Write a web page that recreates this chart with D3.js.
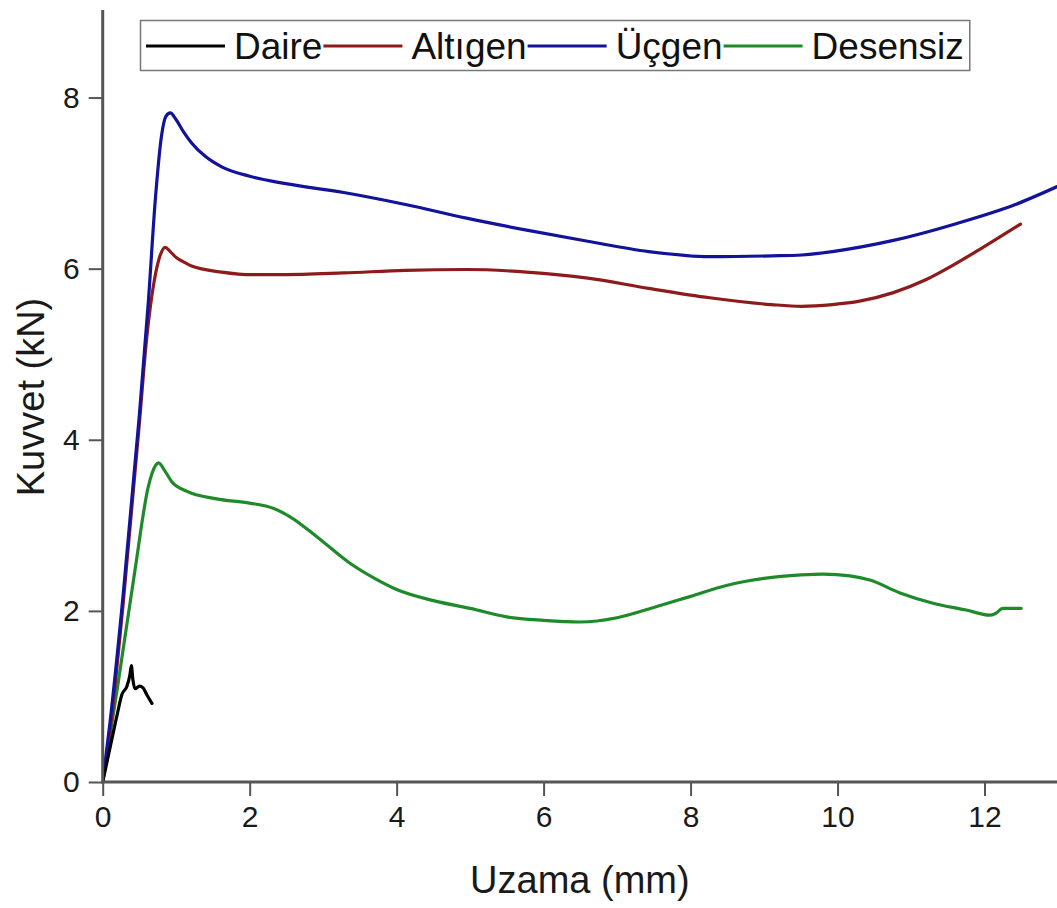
<!DOCTYPE html>
<html>
<head>
<meta charset="utf-8">
<script src="https://cdn.jsdelivr.net/npm/d3@7"></script>
<style>
  html, body { margin: 0; padding: 0; background: #fff; }
  svg { display: block; font-family: "Liberation Sans", Arial, sans-serif; }
</style>
</head>
<body>
<svg id="chart" width="1057" height="908"></svg>
<script>
// ---- data ----
const seriesNames = ["Daire", "Altıgen", "Üçgen", "Desensiz"];
const xTicks = [0, 2, 4, 6, 8, 10, 12];
const yTicks = [0, 2, 4, 6, 8];

const daireX = [0, 0.1, 0.2, 0.26, 0.33, 0.37, 0.39, 0.41, 0.44, 0.5, 0.55, 0.6, 0.67];
const daireY = [0, 0.4, 0.8, 1.02, 1.12, 1.25, 1.36, 1.2, 1.09, 1.12, 1.1, 1.02, 0.92];

const altigenX = [0, 0.1, 0.28, 0.5, 0.6, 0.7, 0.78, 0.85, 0.92, 1.0, 1.1, 1.21, 1.62, 2.04, 2.45, 3.28, 4.12, 4.95, 5.77, 6.6, 7.43, 8.26, 9.1, 9.51, 9.93, 10.3, 10.76, 11.2, 11.59, 11.98, 12.49];
const altigenY = [0, 0.6, 2.1, 4.2, 5.2, 5.85, 6.15, 6.25, 6.2, 6.13, 6.08, 6.03, 5.96, 5.93, 5.93, 5.95, 5.98, 5.99, 5.96, 5.89, 5.77, 5.66, 5.58, 5.56, 5.58, 5.62, 5.72, 5.87, 6.05, 6.25, 6.52];

const ucgenX = [0, 0.1, 0.28, 0.5, 0.62, 0.72, 0.8, 0.86, 0.92, 1.0, 1.1, 1.21, 1.4, 1.62, 2.0, 2.45, 3.28, 4.12, 4.95, 5.77, 6.6, 7.43, 8.26, 9.1, 9.51, 9.93, 10.76, 11.59, 12.42, 12.99];
const ucgenY = [0, 0.7, 2.2, 4.3, 5.6, 6.85, 7.55, 7.78, 7.82, 7.74, 7.6, 7.47, 7.31, 7.19, 7.08, 7.0, 6.89, 6.75, 6.59, 6.45, 6.32, 6.2, 6.14, 6.15, 6.16, 6.2, 6.33, 6.52, 6.75, 6.96];

const desensizX = [0, 0.2, 0.44, 0.62, 0.72, 0.76, 0.85, 0.94, 1.14, 1.55, 2.0, 2.32, 2.55, 2.91, 3.36, 3.7, 4.0, 4.5, 5.0, 5.5, 6.0, 6.5, 7.0, 7.5, 8.0, 8.5, 9.0, 9.5, 9.8, 10.17, 10.44, 10.85, 11.3, 11.75, 12.07, 12.15, 12.25, 12.5];
const desensizY = [0, 1.1, 2.48, 3.45, 3.7, 3.73, 3.63, 3.51, 3.4, 3.31, 3.26, 3.2, 3.1, 2.87, 2.56, 2.38, 2.25, 2.12, 2.03, 1.93, 1.89, 1.87, 1.92, 2.04, 2.17, 2.3, 2.38, 2.42, 2.43, 2.41, 2.36, 2.21, 2.09, 2.01, 1.95, 1.97, 2.03, 2.03];

const seriesColors = ["#000000", "#8e1b1b", "#12129a", "#1f8a2a"];

// ---- build ----
const series = [
  { name: seriesNames[0], x: daireX, y: daireY, color: seriesColors[0] },
  { name: seriesNames[1], x: altigenX, y: altigenY, color: seriesColors[1] },
  { name: seriesNames[2], x: ucgenX, y: ucgenY, color: seriesColors[2] },
  { name: seriesNames[3], x: desensizX, y: desensizY, color: seriesColors[3] }
];

const svg = d3.select("#chart");
const plot = { left: 102.7, right: 1058, top: 12, bottom: 782 };

const x = d3.scaleLinear().domain([0, 13]).range([plot.left, plot.right]);
const y = d3.scaleLinear().domain([0, 9]).range([plot.bottom, plot.top]);

svg.append("defs").append("clipPath").attr("id", "clip")
  .append("rect").attr("x", plot.left).attr("y", plot.top)
  .attr("width", plot.right - plot.left).attr("height", plot.bottom - plot.top);

const line = d3.line().x(d => x(d[0])).y(d => y(d[1])).curve(d3.curveMonotoneX);

const drawOrder = [3, 1, 2, 0];
const g = svg.append("g").attr("clip-path", "url(#clip)");
drawOrder.forEach(i => {
  const s = series[i];
  g.append("path")
    .datum(s.x.map((v, k) => [v, s.y[k]]))
    .attr("fill", "none")
    .attr("stroke", s.color)
    .attr("stroke-width", 3.2)
    .attr("stroke-linejoin", "round")
    .attr("stroke-linecap", "round")
    .attr("d", line);
});

// axes
const axisColor = "#555";
const xAxis = d3.axisBottom(x).tickValues(xTicks).tickSize(14).tickPadding(10).tickFormat(d3.format("d"));
const yAxis = d3.axisLeft(y).tickValues(yTicks).tickSize(14).tickPadding(9).tickFormat(d3.format("d"));

const gx = svg.append("g").attr("transform", `translate(0,${plot.bottom})`).call(xAxis);
const gy = svg.append("g").attr("transform", `translate(${plot.left},0)`).call(yAxis);

[gx, gy].forEach(ax => {
  ax.select(".domain").remove();
  ax.selectAll(".tick line").attr("stroke", axisColor).attr("stroke-width", 2);
  ax.selectAll(".tick text").attr("fill", "#1a1a1a").style("font-size", "30px")
    .style("font-family", "'Liberation Sans', Arial, sans-serif");
});
svg.append("line").attr("x1", plot.left).attr("x2", plot.left)
  .attr("y1", plot.top - 2).attr("y2", plot.bottom + 1.5)
  .attr("stroke", axisColor).attr("stroke-width", 3);
svg.append("line").attr("x1", plot.left - 1.5).attr("x2", 1057)
  .attr("y1", plot.bottom).attr("y2", plot.bottom)
  .attr("stroke", axisColor).attr("stroke-width", 3);

// axis titles
svg.append("text")
  .attr("x", (plot.left + 1057) / 2).attr("y", 893)
  .attr("text-anchor", "middle")
  .style("font-size", "38px").attr("fill", "#1a1a1a")
  .text("Uzama (mm)");
svg.append("text")
  .attr("transform", `translate(44,${(plot.top + plot.bottom) / 2}) rotate(-90)`)
  .attr("text-anchor", "middle")
  .style("font-size", "38px").attr("fill", "#1a1a1a")
  .text("Kuvvet (kN)");

// legend
const lg = svg.append("g");
const box = lg.append("rect").attr("x", 140.5).attr("y", 20.5).attr("height", 50)
  .attr("fill", "#fff").attr("stroke", "#777").attr("stroke-width", 1.5);
let cx = 146;
const lineLen = 79, ly = 46;
series.forEach((s, i) => {
  lg.append("line").attr("x1", cx).attr("x2", cx + lineLen).attr("y1", ly).attr("y2", ly)
    .attr("stroke", s.color).attr("stroke-width", 3);
  cx += lineLen + 9;
  const t = lg.append("text").attr("x", cx).attr("y", ly + 13)
    .style("font-size", "37px").attr("fill", "#111").text(s.name);
  cx += t.node().getComputedTextLength() + 1;
});
box.attr("width", cx + 5 - 140.5);
</script>
</body>
</html>
